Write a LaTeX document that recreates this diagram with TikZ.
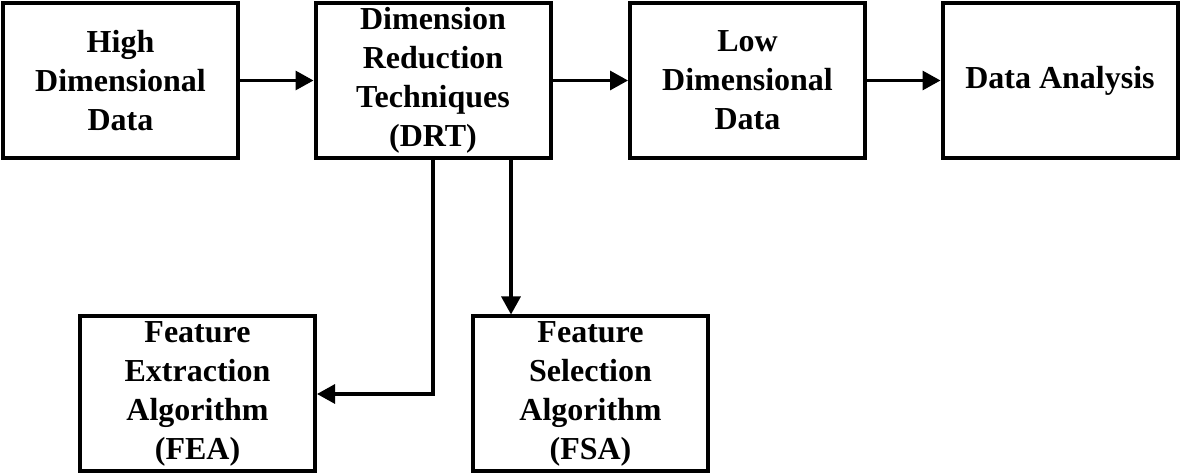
\documentclass[tikz,border=0pt]{standalone}
\usepackage{fontspec}
\setmainfont{Liberation Serif}
\usetikzlibrary{arrows.meta}
\begin{document}
\begin{tikzpicture}[x=0.5pt,y=-0.5pt,
  blk/.style={draw=black,line width=2pt,minimum width=117.5pt,minimum height=77.5pt,
    inner sep=0pt,align=center,font=\fontsize{16}{19.5}\selectfont\bfseries},
  conn/.style={line width=1.6pt,-{Triangle[length=9pt,width=9.5pt]}}]
\useasboundingbox (0,0) rectangle (1181,474);
\node[blk] (b1) at (120.5,80.5) {High\\Dimensional\\Data};
\node[blk] (b2) at (433,80.5) {Dimension\\Reduction\\Techniques\\(DRT)};
\node[blk] (b3) at (747.5,80.5) {Low\\Dimensional\\Data};
\node[blk] (b4) at (1060,80.5) {Data Analysis};
\node[blk] (b5) at (197.5,394) {Feature\\Extraction\\Algorithm\\(FEA)};
\node[blk] (b6) at (590.5,394) {Feature\\Selection\\Algorithm\\(FSA)};
\coordinate (s2) at ([xshift=39pt]b2.south);
\draw[conn] (b1) -- (b2);
\draw[conn] (b2) -- (b3);
\draw[conn] (b3) -- (b4);
\draw[conn] (b2.south) |- (b5.east);
\draw[conn] (s2) -- (s2 |- b6.north);
\end{tikzpicture}
\end{document}
